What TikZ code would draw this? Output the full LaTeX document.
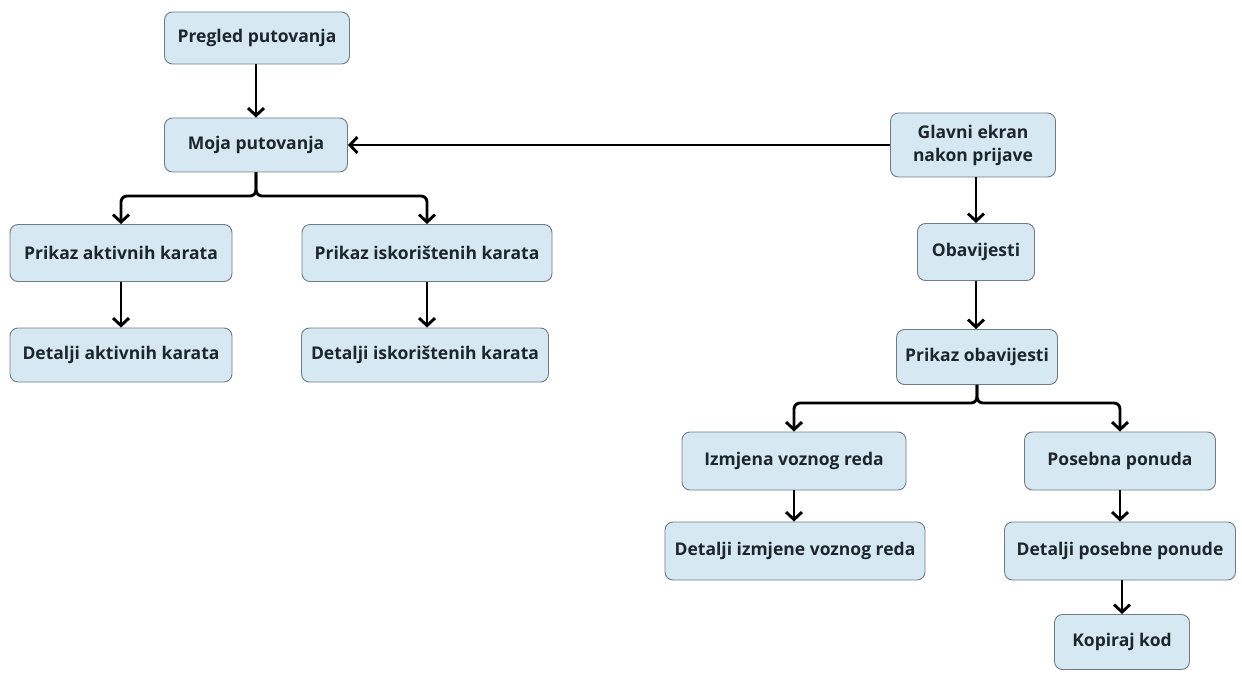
\documentclass[tikz,border=0pt]{standalone}
\usepackage{fontspec}
\setmainfont{Open Sans}
\usetikzlibrary{arrows.meta}
\definecolor{boxfill}{HTML}{D6E9F3}
\definecolor{boxline}{HTML}{6E7C85}
\definecolor{txt}{HTML}{1E262D}
\tikzset{
  box/.style={draw=boxline, line width=0.9pt, fill=boxfill, rounded corners=8pt,
    text=txt, font=\fontsize{17.5}{23}\selectfont\bfseries, align=center, inner sep=2pt},
  conn/.style={draw=black, line width=2.9pt, -{Straight Barb[length=7.5pt,width=16pt,line width=2.9pt]}},
}
\begin{document}
\begin{tikzpicture}[x=1pt,y=-1pt]
\useasboundingbox (0,0) rectangle (1242,679);
% left tree
\node[box, minimum width=185pt, minimum height=52pt] (preg) at (257,38) {Pregled putovanja};
\node[box, minimum width=183pt, minimum height=54pt] (moja) at (256,145) {Moja putovanja};
\node[box, minimum width=222pt, minimum height=57pt] (pakt) at (121,253) {Prikaz aktivnih karata};
\node[box, minimum width=250pt, minimum height=57pt] (pisk) at (427,253) {Prikaz iskorištenih karata};
\node[box, minimum width=222pt, minimum height=54pt] (dakt) at (121,355) {Detalji aktivnih karata};
\node[box, minimum width=247pt, minimum height=54pt] (disk) at (425,355) {Detalji iskorištenih karata};
% right tree
\node[box, minimum width=165pt, minimum height=64pt] (glav) at (973,145) {Glavni ekran\\nakon prijave};
\node[box, minimum width=117pt, minimum height=57pt] (obav) at (976,252) {Obavijesti};
\node[box, minimum width=161pt, minimum height=55pt] (pobav) at (977,357) {Prikaz obavijesti};
\node[box, minimum width=224pt, minimum height=58pt] (izmj) at (794,461) {Izmjena voznog reda};
\node[box, minimum width=191pt, minimum height=58pt] (pos) at (1120,461) {Posebna ponuda};
\node[box, minimum width=260pt, minimum height=58pt] (dizmj) at (795,551) {Detalji izmjene voznog reda};
\node[box, minimum width=231pt, minimum height=58pt] (dpos) at (1120,551) {Detalji posebne ponude};
\node[box, minimum width=135pt, minimum height=55pt] (kop) at (1122,642) {Kopiraj kod};
% connectors
\coordinate (b1) at (moja.south |- 0,196);
\coordinate (b2) at (pobav.south |- 0,403);
\draw[conn] (preg.south -| moja.north) -- (moja.north);
\draw[conn] (glav.west) -- (moja.east);
\draw[conn, rounded corners=6pt] (moja.south) -- (b1) -| (pakt.north);
\draw[conn, rounded corners=6pt] (moja.south) -- (b1) -| (pisk.north);
\draw[conn] (pakt) -- (dakt);
\draw[conn] (pisk.south) -- (disk.north -| pisk.south);
\draw[conn] (glav.south -| obav.north) -- (obav.north);
\draw[conn] (obav.south) -- (obav.south |- pobav.north);
\draw[conn, rounded corners=6pt] (pobav.south) -- (b2) -| (izmj.north);
\draw[conn, rounded corners=6pt] (pobav.south) -- (b2) -| (pos.north);
\draw[conn] (izmj.south) -- (izmj.south |- dizmj.north);
\draw[conn] (pos) -- (dpos);
\draw[conn] (dpos.south -| kop.north) -- (kop.north);
\end{tikzpicture}
\end{document}
